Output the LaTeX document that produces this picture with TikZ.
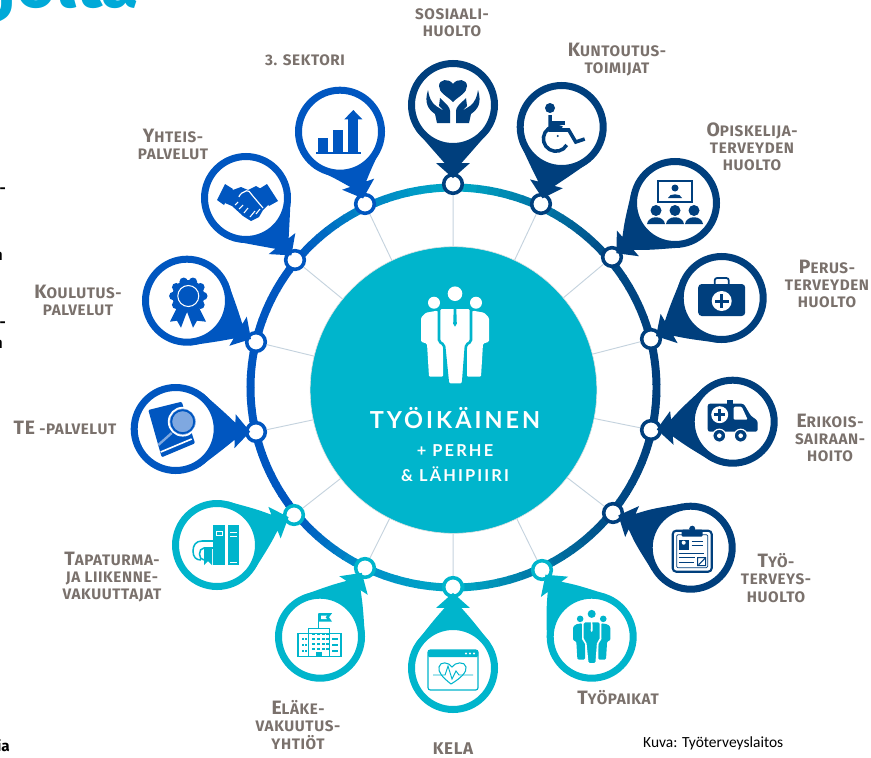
\documentclass[tikz,border=0pt]{standalone}
\usepackage{fontspec}
\usetikzlibrary{calc}
\newfontfamily\labfont[LetterSpace=4]{Fira Sans}
\newfontfamily\corefont[LetterSpace=13]{Lato}
\newfontfamily\subfont[LetterSpace=13]{Lato}
\newfontfamily\creditfont{Carlito}
\definecolor{navypin}{HTML}{003F7D}
\definecolor{bluepin}{HTML}{0056C0}
\definecolor{tealpin}{HTML}{00B5CC}
\definecolor{labgrey}{HTML}{7A716C}
\definecolor{spokegrey}{HTML}{C5D3DE}
\definecolor{titleblue}{HTML}{00A9D8}
\definecolor{lensblue}{HTML}{7FA8E0}
\definecolor{ringa}{HTML}{00A9C6}
\definecolor{ringb}{HTML}{0075A5}
\definecolor{ringc}{HTML}{004A85}
\definecolor{ringd}{HTML}{0090C8}
\definecolor{ringe}{HTML}{0085C5}
\newcommand{\crowd}[4]{%
  \begin{scope}[scale=#1]
    \foreach \sx in {1,-1} {
      \begin{scope}[xscale=\sx]
        \fill[#2] (-21,-33) circle (6);
        \fill[#2, rounded corners=1pt] (-34,-18) -- (-29,-23) -- (-18,-25) -- (-12,-20) -- (-12,41) -- (-26,41) -- (-28,8) -- (-34,6) -- cycle;
      \end{scope}
    }
    \fill[#2] (0,-42) circle (7.3);
    \filldraw[#2, draw=#3, line width=#4, rounded corners=1.5pt] (-16,-28) -- (16,-28) -- (16,6) -- (11,9) -- (8,49) -- (-7,49) -- (-11,9) -- (-16,6) -- cycle;
    \fill[#3] (-1.3,-27) -- (1.3,-27) -- (1.8,-12) -- (0,-9) -- (-1.8,-12) -- cycle;
  \end{scope}}
\tikzset{
  ringline/.style={line width=6.8pt},
  hub/.style={circle, draw=#1, fill=white, line width=3pt, minimum size=0.56cm, inner sep=0pt},
  pinhead/.style={circle, draw=#1, fill=white, line width=0.21cm, minimum size=2.49cm, inner sep=0pt},
  spoke/.style={spokegrey, line width=0.8pt},
  lab/.style={font=\labfont\bfseries\fontsize{13}{14.6}\selectfont, text=labgrey, align=center, inner sep=0pt},
}
\newcommand{\bigc}[1]{{\fontsize{16.5}{14.6}\selectfont #1}}
\begin{document}
\begin{tikzpicture}[x=0.03cm, y=-0.03cm]
  \useasboundingbox (0,0) rectangle (871,757);
  % page text cut by the crop
  \node[anchor=base west, inner sep=0pt, text=titleblue, font=\fontspec{Fira Sans}\bfseries\fontsize{58}{58}\selectfont] (title) at (-3,7.5) {jolta};
  \foreach \fname/\fx/\fy/\ftext in {a/6/193/-, b/3/260/n, c/6/327/-, d/3/348/n, e/10/751/ia}
    \node[anchor=base east, inner sep=0pt, font=\fontspec{Fira Sans}\bfseries\fontsize{13}{13}\selectfont] (frag\fname) at (\fx,\fy) {\ftext};
  % ring
  \begin{scope}[shift={(453.5,387.5)}]
    \foreach \sa/\sb/\ca/\cb in {-90/-64/ringa/ringb, -64/-40/ringb/ringc, -40/-14/ringc/navypin, -14/12/navypin/navypin, 12/38/navypin/ringc, 38/64/ringc/ringb, 64/90/ringb/ringa, 90/116/ringa/ringd, 116/141/ringd/bluepin, 141/167/bluepin/bluepin, 167/193/bluepin/bluepin, 193/219/bluepin/bluepin, 219/244/bluepin/ringe, 244/270/ringe/ringa} {
      \foreach \t in {0,...,7} {
        \pgfmathsetmacro\aa{\sa+(\sb-\sa)*\t/8}
        \pgfmathsetmacro\bb{\sa+(\sb-\sa)*(\t+1)/8+0.3}
        \pgfmathsetmacro\mixp{100-\t*100/7}
        \draw[ringline, color={\ca!\mixp!\cb}] (\aa:203 and 200) arc[start angle=\aa, end angle=\bb, x radius=203, y radius=200];
      }
    }
  \end{scope}
  \node[circle, fill=tealpin, draw=black!12, line width=0.5pt, minimum size=8.6cm, inner sep=0pt] (core) at (453.5,390) {};
  % hubs and pins
  \foreach \name/\nx/\ny/\hx/\hy/\col in {
    sosiaali/453/184/453/105/navypin, kuntoutus/541/204/561.7/127/navypin, opisk/612/257/675/203/navypin,
    perus/651/339/721.7/298/navypin, erikois/651/430/732.7/421.7/navypin, tyoterv/613/513/690.7/547.7/navypin,
    tyopaikat/542/570/591.7/636.7/tealpin, kela/453/587/453/668/tealpin, elake/365/568/320/636.7/tealpin,
    tapat/294/515/217/545/tealpin, te/256/432/175.7/429/bluepin, koulutus/256/342/187/300.7/bluepin,
    yhteis/295/260/246/198/bluepin, sektori/365/204/340/131.7/bluepin} {
    \node[hub=\col] (n\name) at (\nx,\ny) {};
    \draw[spoke] (core) -- (n\name);
    \coordinate (h\name) at (\hx,\hy);
    \fill[\col] ($(h\name)!38.3pt!55:(n\name)$) .. controls ($(n\name)!32.4pt!-30:(h\name)$) .. ($(n\name)!19.3pt!-22:(h\name)$)
      -- ($(n\name)!23pt!-39:(h\name)$) -- ($(n\name)!5pt!(h\name)$) -- ($(n\name)!23pt!39:(h\name)$)
      -- ($(n\name)!19.3pt!22:(h\name)$) .. controls ($(n\name)!32.4pt!30:(h\name)$) .. ($(h\name)!38.3pt!-55:(n\name)$) -- cycle;
    \node[pinhead=\col] (p\name) at (h\name) {};
  }
  % centre
  \begin{scope}[shift={(455,335.7)}]
    \crowd{1}{white}{tealpin}{2.2pt}
  \end{scope}
  \node[font=\corefont\bfseries\fontsize{20}{20}\selectfont, text=white, inner sep=0pt] (coretitle) at (455,418) {TYÖIKÄINEN};
  \node[font=\subfont\bfseries\fontsize{14}{21}\selectfont, text=white, align=center, inner sep=0pt] (coresub) at (455,463) {+ PERHE\\\& LÄHIPIIRI};
  % sosiaali
  \begin{scope}[shift={(hsosiaali)}, navypin]
    \fill (0,-3) .. controls (-6,-9) and (-14,-12) .. (-14,-19) .. controls (-14,-26) and (-4,-27) .. (0,-21) .. controls (4,-27) and (14,-26) .. (14,-19) .. controls (14,-12) and (6,-9) .. (0,-3) -- cycle;
    \foreach \sx in {1,-1} {
      \fill[xscale=\sx] (-25,-15) .. controls (-29,-2) and (-25,4) .. (-18,9) -- (-16,18) -- (-3,18) -- (-3,6) .. controls (-3,2) and (-7,-1) .. (-10,-4) -- (-13,-7) -- (-14,1) -- (-9,6) -- (-17,1) .. controls (-22,-3) and (-24,-8) .. (-25,-15) -- cycle;
    }
  \end{scope}
  % kuntoutus
  \begin{scope}[shift={(hkuntoutus)}, navypin, line width=3pt]
    \fill (-11.7,-19) circle (5);
    \draw (-11.5,-12) -- (-11.5,3) -- (7,3) -- (14,15) -- (23,12);
    \draw (-11.5,-4) -- (3,-4);
    \draw (5,18) arc (30:300:12.5 and 12.5);
    \fill (-4,9) circle (1.2);
  \end{scope}
  % opiskelija
  \begin{scope}[shift={(hopisk)}, navypin]
    \draw[line width=1.3pt] (-17,-22) rectangle (17,-1);
    \fill (0,-15) circle (3.5);
    \fill (-7,-5) .. controls (-6,-10) and (6,-10) .. (7,-5) -- cycle;
    \foreach \px in {-19,0,19} {
      \fill (\px,7.5) circle (5.5);
      \fill (\px-9,21) .. controls (\px-8,12) and (\px+8,12) .. (\px+9,21) -- cycle;
    }
  \end{scope}
  % perus
  \begin{scope}[shift={(hperus)}, navypin]
    \draw[line width=1.5pt, rounded corners=2pt] (-7,-13) -- (-7,-20) -- (7,-20) -- (7,-13);
    \fill[rounded corners=3pt] (-23.5,-14) rectangle (23.5,18);
    \fill[white] (0,3) circle (10);
    \fill (-7,1.5) rectangle (7,4.5);
    \fill (-1.5,-4) rectangle (1.5,10);
  \end{scope}
  % erikois
  \begin{scope}[shift={(herikois)}, navypin]
    \fill (-6,-22) rectangle (0,-18);
    \fill[rounded corners=2pt] (-25,-18) -- (11,-18) -- (18,-6) -- (25,-1) -- (25,10) -- (-25,10) -- cycle;
    \fill[white] (-13,-7) circle (8.5);
    \fill (-18.5,-8.5) rectangle (-7.5,-5.5);
    \fill (-14.5,-13) rectangle (-11.5,-1);
    \fill[white, rounded corners=1pt] (1,-15) -- (9,-15) -- (15,-2) -- (1,-2) -- cycle;
    \foreach \wx in {-13.4,8} {
      \filldraw[draw=white, line width=1pt] (\wx,14) circle (6.5);
      \fill[white] (\wx,14) circle (2.3);
    }
  \end{scope}
  % tyoterveys
  \begin{scope}[shift={(htyoterv)}, navypin]
    \draw[line width=1.8pt, rounded corners=3pt] (-18,-17) rectangle (21,24);
    \draw[line width=0.6pt, rounded corners=1pt] (-14,-13) rectangle (17,20);
    \fill[rounded corners=1pt] (-9,-18) rectangle (12,-11);
    \fill (1.5,-19) circle (3);
    \fill (-12,-8) rectangle (-2,2);
    \fill[white] (-7,-5) circle (2);
    \draw[line width=0.9pt] (1,-6) -- (12,-6) (1,-2) -- (12,-2) (-12,6) -- (13,6) (-12,10) -- (4,10) (-12,15) -- (3,15);
    \draw[line width=0.9pt] (7,10) rectangle (15,18) (8,17) -- (14,11);
  \end{scope}
  % tyopaikat
  \begin{scope}[shift={(591.7,637)}]
    \crowd{0.55}{tealpin}{white}{1.3pt}
  \end{scope}
  % kela
  \begin{scope}[shift={(hkela)}, tealpin]
    \draw[line width=1pt, rounded corners=2pt] (-25,-18) rectangle (25,22);
    \fill[rounded corners=1pt] (-25,-18) rectangle (25,-11);
    \foreach \dx in {13,17,21} \fill[white] (\dx,-14.5) circle (1.2);
    \draw[line width=0.9pt] (-2,16) .. controls (-11,9) and (-15,4) .. (-14,-1) .. controls (-13,-7) and (-4,-6) .. (-1,-1) .. controls (2,-6) and (12,-7) .. (13,-1) .. controls (14,4) and (8,10) .. (-2,16);
    \draw[line width=0.8pt] (-20,7) -- (-8,7) -- (-5,-2) -- (-1,11) -- (3,3) -- (6,7) -- (20,7);
  \end{scope}
  % elake
  \begin{scope}[shift={(helake)}, tealpin]
    \draw[line width=1pt] (-1.7,-8) -- (-1.7,-23);
    \fill (-1.7,-23.5) -- (12,-23.5) -- (9,-19.5) -- (12,-15) -- (-1.7,-15) -- cycle;
    \fill[white] (1,-21) -- (7,-21) -- (5.5,-19.5) -- (7,-17.5) -- (1,-17.5) -- cycle;
    \draw[line width=1pt] (-11.7,20) -- (-11.7,-8.4) -- (9.3,-8.4) -- (9.3,20);
    \draw[line width=1pt] (-22,20) rectangle (21,-3.4);
    \foreach \wx in {-18,-15} \foreach \wy in {1,7,13} \fill (\wx-0.5,\wy) rectangle ++(2.5,2.5);
    \foreach \wx in {14,17} \foreach \wy in {1,7,13} \fill (\wx-2,\wy) rectangle ++(2.5,2.5);
    \foreach \wx in {-8,-3,2,6} \foreach \wy in {-4,1,6,11} \fill (\wx,\wy) rectangle ++(2.5,2.5);
    \fill (-4,15) rectangle (2,20);
  \end{scope}
  % tapaturma
  \begin{scope}[shift={(htapat)}, tealpin]
    \fill (-3.7,-20) rectangle (8,20);
    \fill (10.7,-20) rectangle (22.3,20);
    \draw[white, line width=0.7pt] (-1,-14) rectangle (5,-10) (13,-13) -- (20,-13) (13,-9) -- (20,-9) (13,17) -- (20,17);
    \draw[line width=1.3pt] (-4,-4) -- (-15,-4) .. controls (-21,-4) and (-24,0) .. (-24,6) .. controls (-24,12) and (-21,15) .. (-16,15);
    \draw[line width=1.3pt] (-4,3) -- (-13,3) .. controls (-19,3) and (-19,15) .. (-13,15);
    \fill (-13,4) -- (-5,4) -- (-5,20) -- (-9,16) -- (-13,20) -- cycle;
  \end{scope}
  % te
  \begin{scope}[shift={(hte)}, bluepin]
    \fill[rounded corners=1pt] (-27.4,-19) -- (6,-27.3) -- (19.3,14.3) -- (-14,28.3) -- cycle;
    \draw[white, line width=1.4pt] (-15,23) -- (16,10);
    \draw[color=lensblue, line width=2pt] (-4,4) -- (-17.4,16);
    \filldraw[fill=lensblue, draw=white, line width=1.5pt] (7,-7.3) circle (14);
    \draw[bluepin, line width=1.6pt] (7,-7.3) circle (11.5);
  \end{scope}
  % koulutus
  \begin{scope}[shift={(hkoulutus)}, bluepin]
    \fill (-9,5) -- (-17,21) -- (-10,20) -- (-6,27) -- (0,11) -- (6,27) -- (10,20) -- (19,21) -- (11,5) -- cycle;
    \begin{scope}[shift={(1.3,-4.7)}]
      \fill (0,0) circle (16);
      \foreach \r in {0,36,...,324} \fill (\r:15) circle (4.2);
      \draw[white, line width=0.9pt] (0,0) circle (10.5);
    \end{scope}
  \end{scope}
  % yhteis
  \begin{scope}[shift={(hyhteis)}, bluepin]
    \fill (-29,2) -- (-21,-14) -- (-13,-9) -- (-22,7) -- cycle;
    \fill (32,3) -- (21,-14) -- (13,-9) -- (23,8) -- cycle;
    \fill (-16,-7) -- (-5,-11) -- (2,-8) -- (10,-12) -- (17,-8) -- (25,4) -- (17,12) -- (13,19) -- (5,23) -- (-3,18) -- (-14,8) -- (-21,5) -- cycle;
    \draw[white, line width=1pt, rounded corners=1.5pt] (-7,-1) -- (-6,-4) -- (2,-8) -- (6,-3) -- (17,10);
    \draw[white, line width=0.9pt] (-11,7) -- (-8,4) (-7,11) -- (-3,7) (-2,15) -- (2,10) (4,19) -- (9,13) (10,16) -- (14,11);
  \end{scope}
  % sektori
  \begin{scope}[shift={(hsektori)}, bluepin]
    \fill (-24,20) rectangle (21,22);
    \fill (-21.7,6.6) rectangle (-11.7,20);
    \fill (-6.7,-2) rectangle (3.3,20);
    \fill (8.3,-13) rectangle (18.3,20);
    \fill (4.3,-12.4) -- (22.3,-12.4) -- (13.3,-21.7) -- cycle;
  \end{scope}
  % labels
  \node[lab] (lsektori) at (305,60) {3. SEKTORI};
  \node[lab] (lsosiaali) at (452,22.5) {SOSIAALI-\\HUOLTO};
  \node[lab] (lkuntoutus) at (617,59.5) {\bigc{K}UNTOUTUS-\\TOIMIJAT};
  \node[lab] (lopisk) at (752,146.5) {\bigc{O}PISKELIJA-\\TERVEYDEN\\HUOLTO};
  \node[lab] (lperus) at (827,284) {\bigc{P}ERUS-\\TERVEYDEN\\HUOLTO};
  \node[lab] (lerikois) at (830,438) {\bigc{E}RIKOIS-\\SAIRAAN-\\HOITO};
  \node[lab] (ltyoterv) at (776,578) {\bigc{T}YÖ-\\TERVEYS-\\HUOLTO};
  \node[lab] (ltyopaikat) at (618,698) {\bigc{T}YÖPAIKAT};
  \node[lab, font=\labfont\bfseries\fontsize{14.5}{14.6}\selectfont] (lkela) at (453,749) {KELA};
  \node[lab] (lelake) at (298,725) {\bigc{E}LÄKE-\\VAKUUTUS-\\YHTIÖT};
  \node[lab] (ltapat) at (112,577) {\bigc{T}APATURMA-\\JA LIIKENNE-\\VAKUUTTAJAT};
  \node[lab] (lte) at (65,428) {\bigc{TE} -PALVELUT};
  \node[lab] (lkoulutus) at (78,300.5) {\bigc{K}OULUTUS-\\PALVELUT};
  \node[lab] (lyhteis) at (173,144.5) {\bigc{Y}HTEIS-\\PALVELUT};
  \node[anchor=west, inner sep=0pt, font=\creditfont\fontsize{13.2}{12}\selectfont] (credit) at (643,743) {Kuva: Työterveyslaitos};
\end{tikzpicture}
\end{document}
